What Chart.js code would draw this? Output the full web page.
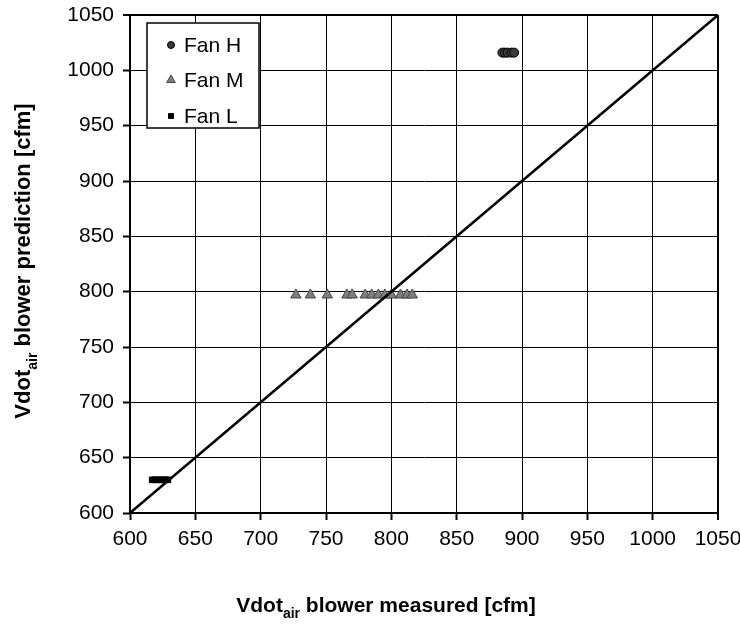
<!DOCTYPE html>
<html>
<head>
<meta charset="utf-8">
<script src="https://cdn.jsdelivr.net/npm/chart.js@4.4.1/dist/chart.umd.min.js"></script>
<style>
  html, body { margin: 0; padding: 0; background: #fff; }
  #wrap { width: 740px; height: 624px; }
</style>
</head>
<body>
<div id="wrap"><canvas id="myChart" width="740" height="624"></canvas></div>
<script>
// measured vs predicted air flow per fan setting [cfm]
const fanHMeasured = [885, 887, 889, 892, 894];
const fanHPredicted = [1016, 1016, 1016, 1016, 1016];

const fanMMeasured = [727, 738, 751, 766, 770, 780, 785, 790, 795, 800, 807, 812, 816];
const fanMPredicted = [797, 797, 797, 797, 797, 797, 797, 797, 797, 797, 797, 797, 797];

const fanLMeasured = [617, 619, 621, 623, 625, 627, 629];
const fanLPredicted = [630, 630, 630, 630, 630, 630, 630];

// 1:1 reference line
const diagonal = [600, 1050];

const axisTicks = [600, 650, 700, 750, 800, 850, 900, 950, 1000, 1050];

const seriesNames = ["Fan H", "Fan M", "Fan L"];

function pairs(xs, ys) {
	return xs.map((x, i) => ({ x: x, y: ys[i] }));
}

const FONT = "'Liberation Sans', Arial, sans-serif";

// axis titles with subscript + legend box
const extras = {
	id: "extras",
	afterDraw(chart) {
		const ctx = chart.ctx;

		function subTitle(before, sub, after, size) {
			const big = "bold " + size + "px " + FONT;
			const small = "bold " + Math.round(size * 0.65) + "px " + FONT;
			ctx.font = big;
			const w1 = ctx.measureText(before).width;
			const w3 = ctx.measureText(after).width;
			ctx.font = small;
			const w2 = ctx.measureText(sub).width;
			let x = -(w1 + w2 + w3) / 2;
			ctx.textBaseline = "alphabetic";
			ctx.textAlign = "left";
			ctx.fillStyle = "#000";
			ctx.font = big;
			ctx.fillText(before, x, 0);
			x += w1;
			ctx.font = small;
			ctx.fillText(sub, x, size * 0.3);
			x += w2;
			ctx.font = big;
			ctx.fillText(after, x, 0);
		}

		ctx.save();
		ctx.translate(386, 612);
		subTitle("Vdot", "air", " blower measured [cfm]", 21);
		ctx.restore();

		ctx.save();
		ctx.translate(30, 261);
		ctx.rotate(-Math.PI / 2);
		subTitle("Vdot", "air", " blower prediction [cfm]", 22);
		ctx.restore();

		// legend
		const box = { x: 147, y: 23, w: 112, h: 105 };
		ctx.save();
		ctx.fillStyle = "#fff";
		ctx.fillRect(box.x, box.y, box.w, box.h);
		ctx.strokeStyle = "#000";
		ctx.lineWidth = 1.5;
		ctx.strokeRect(box.x, box.y, box.w, box.h);
		const rows = [45, 80, 116];
		const sets = chart.data.datasets.slice(1);
		sets.forEach((ds, i) => {
			ctx.fillStyle = ds.backgroundColor;
			ctx.strokeStyle = ds.borderColor;
			ctx.lineWidth = 1;
			Chart.helpers.drawPoint(ctx, {
				pointStyle: ds.pointStyle,
				radius: ds.legendRadius,
				borderWidth: 1,
				rotation: 0
			}, 171, rows[i]);
			ctx.fillStyle = "#000";
			ctx.font = "21px " + FONT;
			ctx.textAlign = "left";
			ctx.textBaseline = "middle";
			ctx.fillText(seriesNames[i], 184, rows[i] + 1);
		});
		ctx.restore();
	}
};

function axisOptions(fit) {
	return {
		type: "linear",
		min: 600,
		max: 1050,
		afterBuildTicks: (scale) => {
			scale.ticks = axisTicks.map((v) => ({ value: v }));
		},
		afterFit: fit,
		grid: {
			color: "#000",
			lineWidth: (c) => (c.tick && c.tick.value === 1050 ? 2 : 1),
			tickLength: 7,
			tickWidth: 2,
			tickColor: "#000",
		},
		border: { display: true, color: "#000", width: 2 },
		ticks: {
			color: "#000",
			maxRotation: 0,
			font: { family: FONT, size: 21 },
			callback: (v) => String(v),
		},
	};
}

// fixed axis sizes so the plot area sits at 130..718 x 15..513
const xAxis = axisOptions((scale) => {
	scale.height = 111;
	scale.paddingLeft = 0;
	scale.paddingRight = 22;
});
xAxis.ticks.padding = 7;
const yAxis = axisOptions((scale) => {
	scale.width = 130;
	scale.paddingTop = 15;
	scale.paddingBottom = 0;
});
yAxis.ticks.padding = 9;

new Chart(document.getElementById("myChart"), {
	type: "scatter",
	data: {
		datasets: [
			{
				type: "line",
				label: "1:1",
				data: pairs(diagonal, diagonal),
				borderColor: "#000",
				borderWidth: 2.5,
				pointRadius: 0,
				order: 0,
			},
			{
				label: seriesNames[0],
				data: pairs(fanHMeasured, fanHPredicted),
				pointStyle: "circle",
				pointRadius: 4.5,
				legendRadius: 3.5,
				backgroundColor: "#3a3a3a",
				borderColor: "#000",
				borderWidth: 1,
				order: 1,
			},
			{
				label: seriesNames[1],
				data: pairs(fanMMeasured, fanMPredicted),
				pointStyle: "triangle",
				pointRadius: 6,
				legendRadius: 5,
				backgroundColor: "#7f7f7f",
				borderColor: "#444",
				borderWidth: 1,
				order: 1,
			},
			{
				label: seriesNames[2],
				data: pairs(fanLMeasured, fanLPredicted),
				pointStyle: "rect",
				pointRadius: 4,
				legendRadius: 3.5,
				backgroundColor: "#000",
				borderColor: "#000",
				borderWidth: 1,
				order: 1,
			},
		],
	},
	options: {
		responsive: false,
		animation: false,
		layout: {
			padding: 0,
		},
		scales: { x: xAxis, y: yAxis },
		plugins: {
			legend: { display: false },
			tooltip: { enabled: false },
		},
	},
	plugins: [extras],
});
</script>
</body>
</html>
